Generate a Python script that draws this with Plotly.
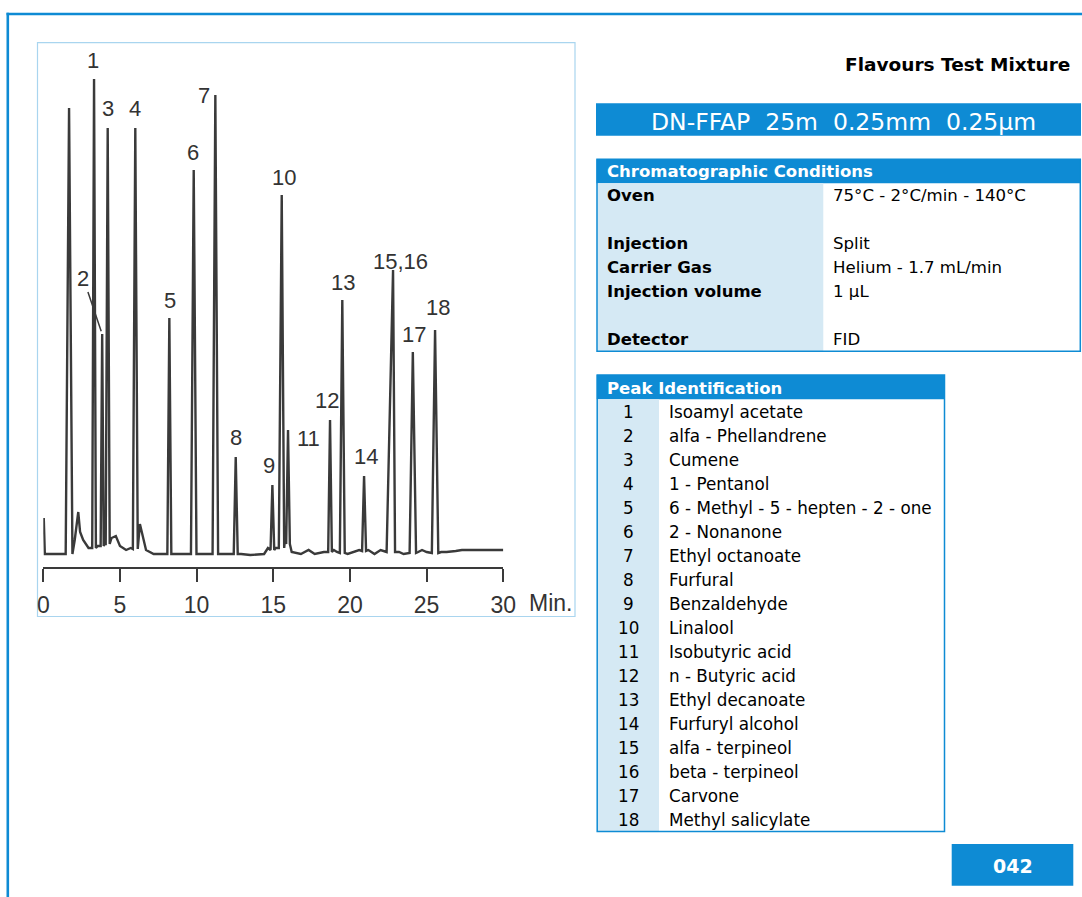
import plotly.graph_objects as go

W, H = 1082, 897

# ---------------- chromatogram data (time in min, response in arbitrary units) ----------------
peak_labels = ["", "1", "2", "3", "4", "5", "6", "7", "8", "9", "10", "11", "12", "13", "14", "15,16", "17", "18"]
peak_times = [1.68, 3.31, 3.84, 4.20, 6.00, 8.22, 9.81, 11.22, 12.55, 14.94, 15.55, 15.96,
              18.70, 19.50, 20.92, 22.81, 24.10, 25.55]
peak_heights = [446, 475, 220, 426, 426, 236, 384, 459, 97, 69, 359, 124, 134, 254, 78, 284, 202, 224]
peak_lead = [0.22, 0.12, 0.10, 0.13, 0.16, 0.13, 0.18, 0.18, 0.13, 0.12, 0.19, 0.12,
             0.12, 0.16, 0.13, 0.42, 0.21, 0.21]
peak_tail = [0.22, 0.12, 0.10, 0.13, 0.16, 0.13, 0.18, 0.18, 0.13, 0.12, 0.16, 0.12,
             0.12, 0.16, 0.13, 0.13, 0.21, 0.21]
peak_floor = [0, 6, 8, 10, 5, 0, 0, 0, 0, 4, 6, 10, 2, 1, 3, 2, 1, 1]

baseline_times = [0.03, 0.10, 1.30, 2.05, 2.18, 2.28, 2.40, 2.60, 2.95, 3.55, 4.00, 4.45, 4.73,
                  5.00, 5.40, 5.70, 6.30, 6.45, 6.70, 7.20, 7.90, 8.50, 9.40, 10.20, 10.80,
                  11.60, 12.20, 12.90, 13.50, 14.40, 14.65, 15.15, 15.78, 16.20, 16.80, 17.30,
                  17.70, 18.30, 18.95, 19.15, 19.85, 20.30, 20.60, 21.20, 21.60, 22.00, 23.20,
                  23.50, 24.45, 24.70, 25.00, 25.95, 26.30, 26.90, 27.30, 28.00, 30.00]
baseline_values = [36, 0, 0, 14, 30, 42, 22, 14, 6, 8, 10, 16, 18,
                   8, 4, 6, 30, 20, 4, 0, 0, 0, 0, 0, 0,
                   0, 0, 0, -1, 0, 6, 6, 18, 2, 0, 4,
                   0, 2, 4, 2, 0, 2, 4, 4, 0, 4, 2,
                   0, 2, 4, 2, 2, 2, 3, 4, 4, 4]

tick_values = [0, 5, 10, 15, 20, 25, 30]
tick_labels = ["0", "5", "10", "15", "20", "25", "30"]

# ---------------- text content ----------------
title_text = "Flavours Test Mixture"
column_text = "DN-FFAP\u00a0\u00a025m\u00a0\u00a00.25mm\u00a0\u00a00.25µm"
cond_header = "Chromatographic Conditions"
cond_names = ["Oven", "Injection", "Carrier Gas", "Injection volume", "Detector"]
cond_values = ["75°C - 2°C/min - 140°C", "Split", "Helium - 1.7 mL/min", "1 µL", "FID"]
cond_rows = [0, 2, 3, 4, 6]
peak_header = "Peak Identification"
compound_ids = [str(i) for i in range(1, 19)]
compound_names = ["Isoamyl acetate", "alfa - Phellandrene", "Cumene", "1 - Pentanol",
                  "6 - Methyl - 5 - hepten - 2 - one", "2 - Nonanone", "Ethyl octanoate",
                  "Furfural", "Benzaldehyde", "Linalool", "Isobutyric acid", "n - Butyric acid",
                  "Ethyl decanoate", "Furfuryl alcohol", "alfa - terpineol", "beta - terpineol",
                  "Carvone", "Methyl salicylate"]
page_number = "042"

# ---------------- styling ----------------
BLUE = "#0e8bd4"
LIGHT = "#d5e9f4"
FRAME = "#a9d5ef"
INK = "#3a3a3a"
FONT = "DejaVu Sans"
CHFONT = "Liberation Sans"

def X(px):
    return px / W

def Y(py):
    return 1 - py / H

# build the trace from baseline samples and peak apexes
pts = list(zip(baseline_times, baseline_values))
for t, h, a, b, f in zip(peak_times, peak_heights, peak_lead, peak_tail, peak_floor):
    pts += [(t - a, f), (t, h), (t + b, f)]
pts.sort(key=lambda p: p[0])
sig_x = [p[0] for p in pts]
sig_y = [p[1] for p in pts]

fig = go.Figure()
fig.add_trace(go.Scatter(x=sig_x, y=sig_y, mode="lines",
                         line=dict(color=INK, width=2.4), hoverinfo="skip", showlegend=False))

# axis geometry (pixels)
ax_left, ax_right = 43.3, 503.3
ax_line_y, ax_top = 566.7, 43.0
y_lo, y_hi = -12.7, 511.0

label_offsets = {
    "1": (-1, -19), "3": (0, -20), "4": (0, -20), "5": (1, -18), "6": (-1, -18),
    "7": (-11, 0), "8": (0, -20), "9": (-3, -20), "10": (2, -18), "11": (20, 8),
    "12": (-3, -20), "13": (1, -18), "14": (2, -20), "15,16": (7, -9), "17": (1, -18),
    "18": (3, -23),
}

annotations = []
for lab, t, h in zip(peak_labels, peak_times, peak_heights):
    if not lab:
        continue
    if lab == "2":
        annotations.append(dict(x=t, y=h, xref="x", yref="y", text=lab, showarrow=True,
                                arrowhead=0, arrowwidth=1.5, arrowcolor=INK, ax=-19, ay=-56,
                                standoff=3, font=dict(family=CHFONT, size=22, color="#333")))
        continue
    dx, dy = label_offsets[lab]
    annotations.append(dict(x=t, y=h, xref="x", yref="y", text=lab, showarrow=False,
                            xshift=dx, yshift=-dy, xanchor="center", yanchor="middle",
                            font=dict(family=CHFONT, size=22, color="#333")))

annotations.append(dict(x=X(527), y=Y(603), xref="paper", yref="paper", text="Min.",
                        showarrow=False, xanchor="left", yanchor="middle",
                        font=dict(family=CHFONT, size=23, color="#333")))

# right side texts
def txt(x, y, s, size, color="#000", bold=False, anchor="left"):
    annotations.append(dict(x=X(x), y=Y(y), xref="paper", yref="paper", text=s,
                            showarrow=False, xanchor=anchor, yanchor="middle",
                            font=dict(family=FONT, size=size, color=color,
                                      weight="bold" if bold else "normal")))

txt(1072, 65, title_text, 18.5, bold=True, anchor="right")
txt(843, 121.5, column_text, 23.5, color="white", anchor="center")
txt(605, 171.5, cond_header, 16.5, color="white", bold=True)
for name, val, r in zip(cond_names, cond_values, cond_rows):
    yy = 195.5 + r * 24.0
    txt(605, yy, name, 16.5, bold=True)
    txt(831, yy, val, 16.6)
txt(605, 388.3, peak_header, 16.5, color="white", bold=True)
for i, (cid, nm) in enumerate(zip(compound_ids, compound_names)):
    yy = 411.7 + i * 24.02
    txt(628.3, yy, cid, 16.8, anchor="center")
    txt(667, yy, nm, 16.8)
txt(1012.5, 865.5, page_number, 19, color="white", bold=True, anchor="center")

def rect(x0, y0, x1, y1, fill=None, line=None, lw=0, layer="below"):
    return dict(type="rect", xref="paper", yref="paper", x0=X(x0), x1=X(x1), y0=Y(y1), y1=Y(y0),
                fillcolor=fill if fill else "rgba(0,0,0,0)",
                line=dict(color=line if line else "rgba(0,0,0,0)", width=lw), layer=layer)

def hline(x0, x1, y, color, w):
    return dict(type="line", xref="paper", yref="paper", x0=X(x0), x1=X(x1), y0=Y(y), y1=Y(y),
                line=dict(color=color, width=w), layer="above")

def vline(x, y0, y1, color, w):
    return dict(type="line", xref="paper", yref="paper", x0=X(x), x1=X(x), y0=Y(y0), y1=Y(y1),
                line=dict(color=color, width=w), layer="above")

shapes = [
    hline(6.5, 1082, 14, BLUE, 2.6),
    vline(7.8, 12.7, 897, BLUE, 2.6),
    rect(37.5, 42.7, 575, 616.5, line=FRAME, lw=1.2),
    rect(596, 103.3, 1081, 135.7, fill=BLUE),
    # conditions table
    rect(596.5, 159.3, 1080.7, 183.3, fill=BLUE),
    rect(597.3, 183.3, 823.3, 351, fill=LIGHT),
    rect(597, 159.3, 1080.3, 351.2, line=BLUE, lw=1.5),
    # peak table
    rect(596.7, 375, 945, 399.3, fill=BLUE),
    rect(597.3, 399.3, 659, 831.7, fill=LIGHT),
    rect(597.2, 375, 944.5, 831.4, line=BLUE, lw=1.5),
    # page number
    rect(951.7, 844, 1073.3, 885.7, fill=BLUE),
]

fig.update_layout(
    template="none",
    width=W, height=H,
    margin=dict(l=0, r=0, t=0, b=0, pad=0),
    paper_bgcolor="white", plot_bgcolor="white",
    showlegend=False,
    xaxis=dict(domain=[X(ax_left), X(ax_right)], range=[0, 30], showgrid=False, zeroline=False,
               showline=True, linecolor=INK, linewidth=2, ticks="outside", ticklen=13,
               tickwidth=2, tickcolor=INK, tickvals=tick_values, ticktext=tick_labels,
               tickfont=dict(family=CHFONT, size=23, color="#333"), ticklabelstandoff=4,
               automargin=False, fixedrange=True),
    yaxis=dict(domain=[Y(ax_line_y), Y(ax_top)], range=[y_lo, y_hi], visible=False,
               automargin=False, fixedrange=True),
    annotations=annotations,
    shapes=shapes,
)

fig.write_html("out.html", config={"displayModeBar": False},
               post_script="document.body.style.margin='0';document.body.style.overflow='hidden';")
